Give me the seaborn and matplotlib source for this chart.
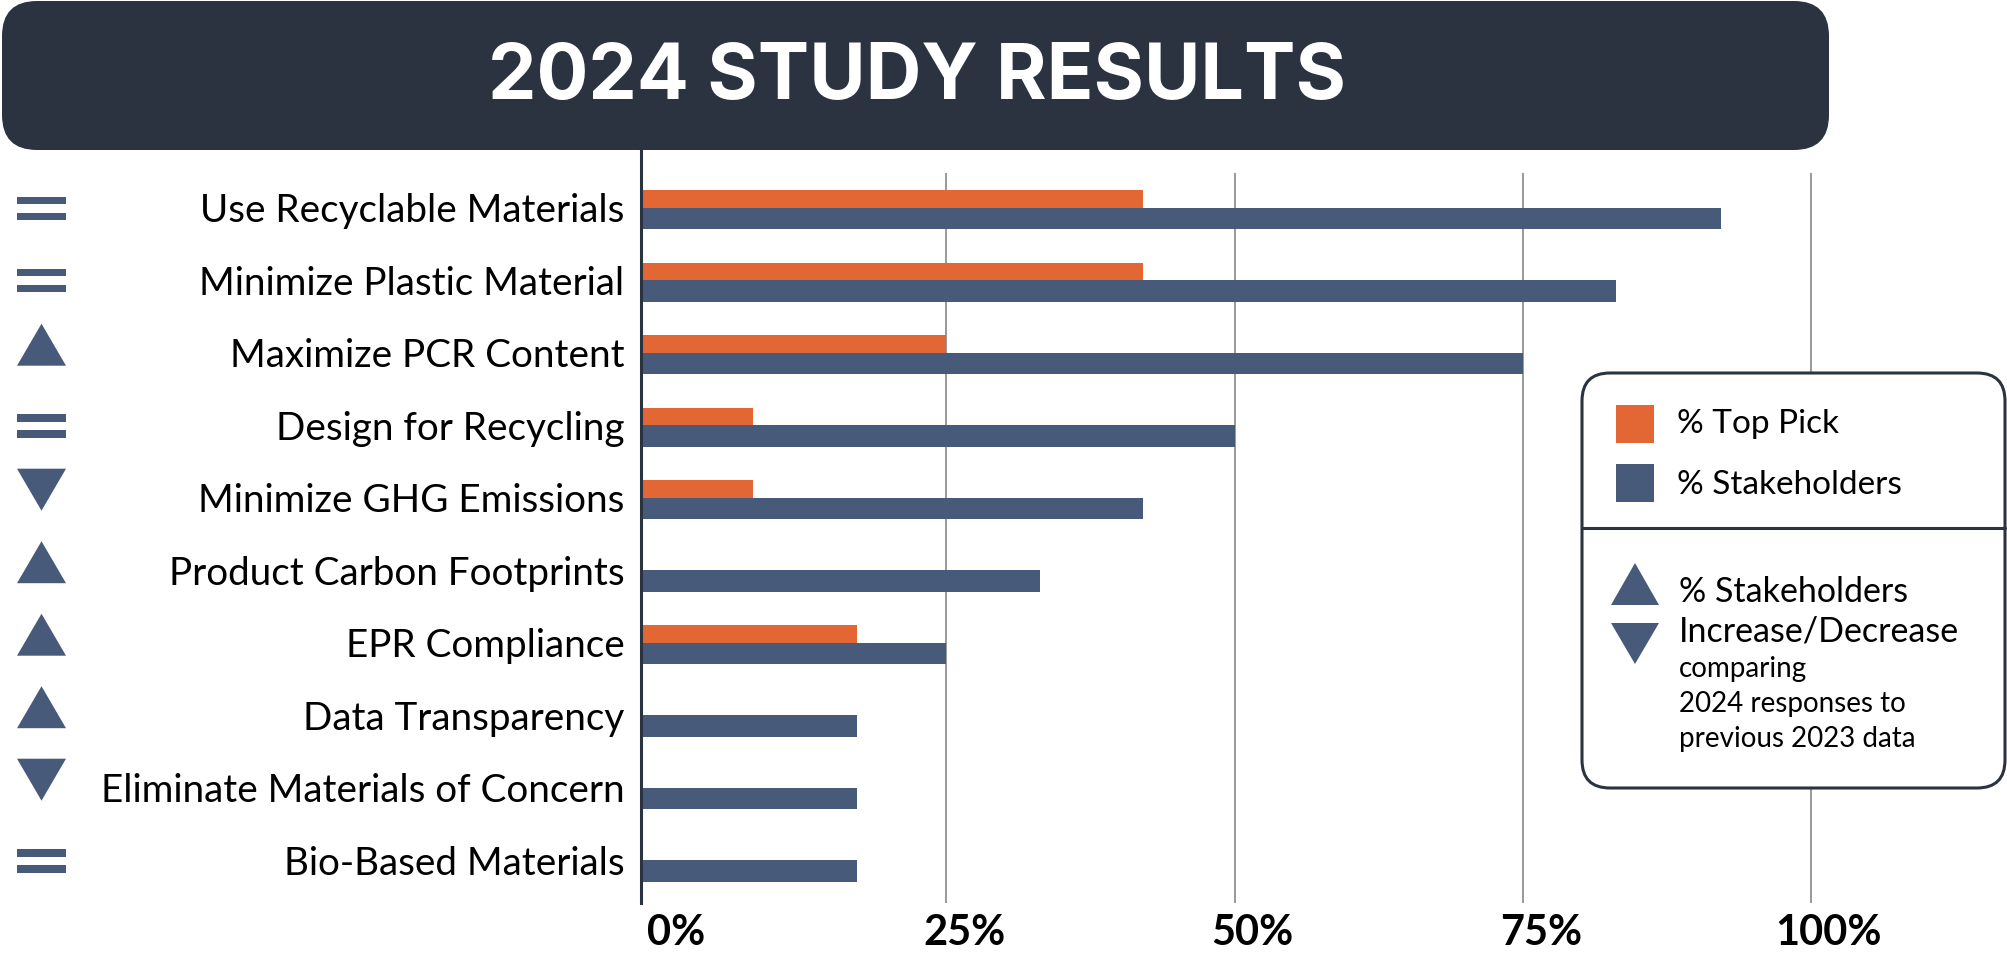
import numpy as np
import pandas as pd
import matplotlib
matplotlib.use("Agg")
import matplotlib.pyplot as plt
import matplotlib.transforms as mtransforms
from matplotlib.patches import FancyBboxPatch, Rectangle, Polygon
import seaborn as sns

# ---------------- data ----------------
categories = [
    "Use Recyclable Materials",
    "Minimize Plastic Material",
    "Maximize PCR Content",
    "Design for Recycling",
    "Minimize GHG Emissions",
    "Product Carbon Footprints",
    "EPR Compliance",
    "Data Transparency",
    "Eliminate Materials of Concern",
    "Bio-Based Materials",
]
top_pick = [42.1, 42.1, 25.0, 8.2, 8.2, 0.0, 17.3, 0.0, 0.0, 0.0]
stakeholders = [92.2, 83.1, 75.0, 50.0, 42.1, 33.1, 25.0, 17.3, 17.3, 17.3]
trend = ["same", "same", "up", "same", "down", "up", "up", "up", "down", "same"]
x_ticks = [0, 25, 50, 75, 100]
x_tick_labels = ["0%", "25%", "50%", "75%", "100%"]
series_names = ["% Top Pick", "% Stakeholders"]
title = "2024 STUDY RESULTS"
note_main = ["% Stakeholders", "Increase/Decrease"]
note_small = ["comparing", "2024 responses to", "previous 2023 data"]

# ---------------- style ----------------
ORANGE = "#E36734"
BLUE = "#485A7A"
DARK = "#2B3340"
GRID = "#9B9B9B"

sns.set_theme(style="white")
plt.rcParams["font.family"] = ["Lato", "DejaVu Sans"]

W, H = 2007, 959
fig = plt.figure(figsize=(W / 100, H / 100), dpi=100)
fig.patch.set_facecolor("white")

ax_left, ax_right, ax_top, ax_bottom = 641, 1870, 150, 903
ax = fig.add_axes([ax_left / W, 1 - ax_bottom / H,
                   (ax_right - ax_left) / W, (ax_bottom - ax_top) / H])

px_per_pct = 11.53
zero_px = 658
x_min = (ax_left - zero_px) / px_per_pct
x_max = (ax_right - zero_px) / px_per_pct
row_px = 72.5
row0_px = 207.7
y_top = (ax_top - row0_px) / row_px
y_bot = (ax_bottom - row0_px) / row_px
grid_top = (173 - row0_px) / row_px

pos = np.arange(len(categories))
df = pd.DataFrame({
    "category": categories,
    "top_pick": top_pick,
    "stakeholders": stakeholders,
    "pos_top": pos - 0.122,
    "pos_stk": pos + 0.149,
})

sns.barplot(data=df, x="top_pick", y="pos_top", orient="y", native_scale=True,
            width=0.244, color=ORANGE, saturation=1, errorbar=None,
            linewidth=0, ax=ax, zorder=3)
sns.barplot(data=df, x="stakeholders", y="pos_stk", orient="y", native_scale=True,
            width=0.298, color=BLUE, saturation=1, errorbar=None,
            linewidth=0, ax=ax, zorder=3)

ax.set_xlim(x_min, x_max)
ax.set_ylim(y_bot, y_top)

# bars begin at the axis line
for p in ax.patches:
    w = p.get_width()
    if w > 0:
        p.set_x(x_min)
        p.set_width(w - x_min)

ax.vlines(x_ticks[1:], ymin=grid_top, ymax=y_bot, colors=GRID, lw=1.44, zorder=1)

sns.despine(ax=ax, top=True, right=True, bottom=True)
ax.spines["left"].set_color(DARK)
ax.spines["left"].set_linewidth(2.2)
ax.spines["left"].set_zorder(4)
ax.grid(False)
ax.set_xlabel("")
ax.set_ylabel("")

ax.set_xticks(x_ticks)
ax.set_xticklabels(x_tick_labels, fontsize=30, fontweight="bold", color="black")
ax.tick_params(axis="x", length=0, pad=8)
offset = mtransforms.ScaledTranslation(18 / 100, 0, fig.dpi_scale_trans)
for lbl in ax.get_xticklabels():
    lbl.set_transform(lbl.get_transform() + offset)

ax.set_yticks(pos)
ax.set_yticklabels(categories, fontsize=27.8, color="black")
ax.tick_params(axis="y", length=0, pad=12)

# ---------------- overlay (pixel coords) ----------------
ov = fig.add_axes([0, 0, 1, 1], zorder=5)
ov.set_xlim(0, W)
ov.set_ylim(H, 0)
ov.axis("off")

ov.add_patch(FancyBboxPatch((2, 1), 1827, 149,
                            boxstyle="round,pad=0,rounding_size=35",
                            fc=DARK, ec="none"))
ov.text(917, 99, title, ha="center", va="baseline", fontsize=55.5,
        fontweight="bold", color="white", family=["Inter", "DejaVu Sans"])

# trend icons
for i, t in enumerate(trend):
    yc = H - ax.transData.transform((0, i))[1]
    if t == "same":
        ov.add_patch(Rectangle((17, yc - 11), 49, 7.3, fc=BLUE, ec="none"))
        ov.add_patch(Rectangle((17, yc + 5), 49, 7.3, fc=BLUE, ec="none"))
    elif t == "up":
        c = yc - 8
        ov.add_patch(Polygon([(17, c + 21), (66, c + 21), (41.5, c - 21)],
                             closed=True, fc=BLUE, ec="none"))
    else:
        c = yc - 8
        ov.add_patch(Polygon([(17, c - 21), (66, c - 21), (41.5, c + 21)],
                             closed=True, fc=BLUE, ec="none"))

# legend box
ov.add_patch(FancyBboxPatch((1582, 373), 423, 415,
                            boxstyle="round,pad=0,rounding_size=28",
                            fc="white", ec=DARK, lw=2.2))
ov.plot([1582, 2005], [528, 528], color=DARK, lw=2.2)
ov.add_patch(Rectangle((1616, 405), 38, 38, fc=ORANGE, ec="none"))
ov.add_patch(Rectangle((1616, 464), 38, 38, fc=BLUE, ec="none"))
ov.text(1677, 432.7, series_names[0], fontsize=24, va="baseline", color="black")
ov.text(1677, 494, series_names[1], fontsize=24, va="baseline", color="black")

ov.add_patch(Polygon([(1611, 605), (1659, 605), (1635, 563)], closed=True, fc=BLUE, ec="none"))
ov.add_patch(Polygon([(1611, 623), (1659, 623), (1635, 664)], closed=True, fc=BLUE, ec="none"))
ov.text(1679, 601.7, note_main[0], fontsize=24.5, va="baseline", color="black")
ov.text(1679, 641.7, note_main[1], fontsize=24.5, va="baseline", color="black")
for j, line in enumerate(note_small):
    ov.text(1679, 676.7 + 35 * j, line, fontsize=20, va="baseline", color="black")

fig.savefig("out.png", dpi=100)
